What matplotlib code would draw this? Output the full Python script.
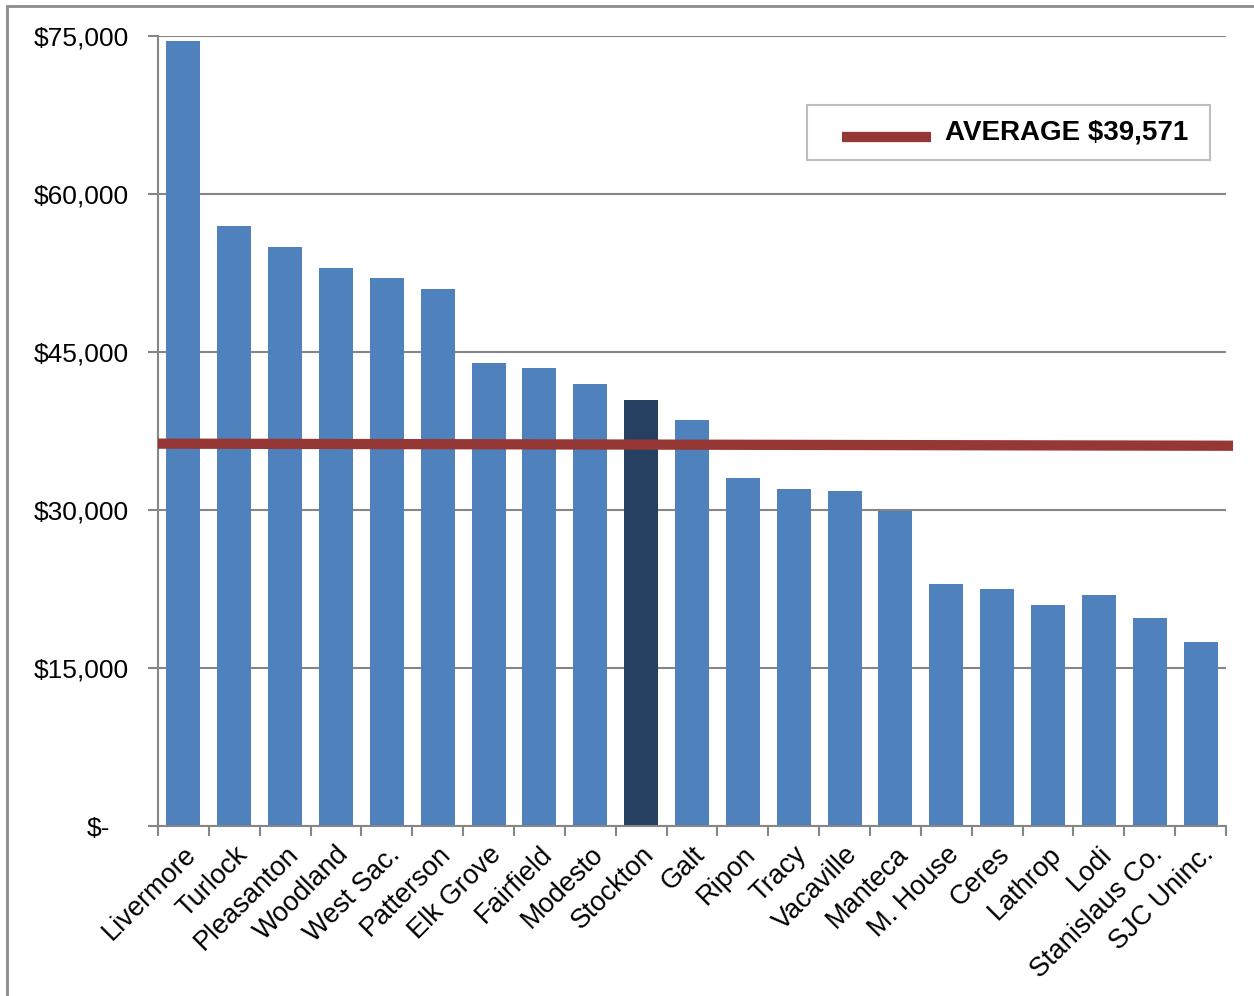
import matplotlib.pyplot as plt
import numpy as np
from matplotlib.patches import Rectangle
from matplotlib.lines import Line2D
from matplotlib.ticker import MultipleLocator, FuncFormatter
from matplotlib.transforms import blended_transform_factory

plt.rcParams['font.family'] = ['Liberation Sans', 'DejaVu Sans']

cities = ['Livermore', 'Turlock', 'Pleasanton', 'Woodland', 'West Sac.', 'Patterson',
          'Elk Grove', 'Fairfield', 'Modesto', 'Stockton', 'Galt', 'Ripon', 'Tracy',
          'Vacaville', 'Manteca', 'M. House', 'Ceres', 'Lathrop', 'Lodi',
          'Stanislaus Co.', 'SJC Uninc.']
values = [74500, 57000, 55000, 53000, 52000, 51000, 44000, 43500, 42000, 40400,
          38500, 33000, 32000, 31800, 29900, 23000, 22500, 21000, 21900, 19750, 17500]
highlight = 'Stockton'
avg_label = 'AVERAGE $39,571'
avg_line = [36300, 36100]   # drawn line, left end / right end

blue = '#4F81BD'
navy = '#254061'
red = '#953735'
grey = '#868686'

W, H = 1254, 996
fig = plt.figure(figsize=(W / 100, H / 100), dpi=100)
ax = fig.add_axes([158 / W, 1 - 826 / H, (1226 - 158) / W, (826 - 36) / H])

x = np.arange(len(cities))
colors = [navy if c == highlight else blue for c in cities]
ax.bar(x, values, width=0.67, color=colors, zorder=2)

# average line runs a little past the right end of the axis
ax.plot([0, 1.0066], avg_line, color=red, lw=7.4, solid_capstyle='butt',
        transform=blended_transform_factory(ax.transAxes, ax.transData),
        clip_on=False, zorder=3)

ax.set_xlim(-0.5, len(cities) - 0.5)
ax.set_ylim(0, 75000)
ax.yaxis.set_major_locator(MultipleLocator(15000))


def money(v, pos):
    if v == 0:
        return '$-'
    return '${:,.0f}'.format(v)


ax.yaxis.set_major_formatter(FuncFormatter(money))
ax.grid(axis='y', color=grey, lw=1.5, zorder=0)
ax.set_axisbelow(True)

ax.set_xticks(x)
ax.set_xticklabels(cities, rotation=45, ha='right', rotation_mode='anchor')
ax.set_xticks(np.arange(-0.5, len(cities)), minor=True)
ax.tick_params(axis='x', which='major', length=0, pad=11, labelsize=19.5)
ax.tick_params(axis='x', which='minor', length=7, width=1.5, color=grey, direction='out')
ax.tick_params(axis='y', length=7, width=1.5, color=grey, pad=14, labelsize=19)
# the zero label sits further left, as in the accounting format
for lbl in ax.get_yticklabels():
    if lbl.get_text() == '$-':
        lbl.set_x(-0.018)

for s in ['top', 'right']:
    ax.spines[s].set_visible(False)
for s in ['left', 'bottom']:
    ax.spines[s].set_color(grey)
    ax.spines[s].set_linewidth(1.5)

# legend box drawn by hand
fig.patches.append(Rectangle((807 / W, 1 - 160 / H), (1210 - 807) / W, 55 / H,
                             transform=fig.transFigure, facecolor='white',
                             edgecolor='#BFBFBF', lw=1.5, zorder=5))
fig.lines.append(Line2D([842 / W, 931 / W], [1 - 137 / H, 1 - 137 / H],
                        transform=fig.transFigure, color=red, lw=7.4,
                        solid_capstyle='butt', zorder=6))
fig.text(945 / W, 1 - 132 / H, avg_label, fontsize=20, fontweight='bold',
         ha='left', va='center', zorder=6)

fig.patches.append(Rectangle((7 / W, -0.1), 1.2, 1.1 - 6 / H, transform=fig.transFigure,
                             fill=False, edgecolor='#8C8C8C', lw=2))

fig.savefig('out.png', dpi=100)
